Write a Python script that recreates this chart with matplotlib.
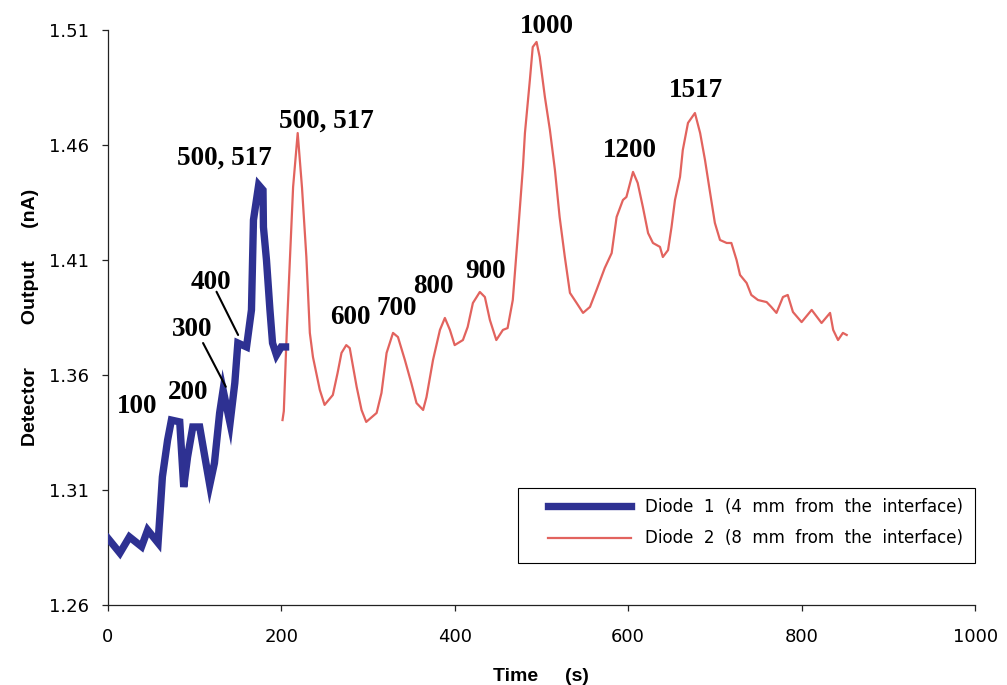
import matplotlib
matplotlib.use("Agg")
import matplotlib.pyplot as plt
from matplotlib.patches import Rectangle

# ---------------- data ----------------
diode1_t = [0, 14, 25, 39, 46, 58, 60, 63, 69, 73.4, 83, 87.6, 92, 98, 106, 112,
            117.6, 123, 129, 133, 141, 146.5, 150, 160, 165.7, 168, 174, 179,
            179.5, 183, 187, 190, 194.5, 200, 205]
diode1_v = [1.2891, 1.2826, 1.2896, 1.2854, 1.2926, 1.2870, 1.2983, 1.3157, 1.3317,
            1.3404, 1.3396, 1.3113, 1.3243, 1.3374, 1.3374, 1.3243, 1.3122, 1.3217,
            1.3435, 1.3535, 1.3391, 1.3565, 1.3739, 1.3722, 1.3883, 1.4274, 1.4426,
            1.4404, 1.4243, 1.4100, 1.3883, 1.3739, 1.3687, 1.3722, 1.3722]

diode2_t = [201.5, 203, 206.6, 210, 213.7, 219, 224, 229, 233, 236.6, 244.5, 250,
            259.5, 265, 269.5, 275, 279, 287, 292.6, 298, 310, 315.6, 321.5, 328.9,
            334.6, 342.6, 350, 356, 363.6, 367.5, 375, 383, 388.7, 394.5, 400, 409.5,
            415, 421, 429, 434.8, 440.6, 448, 455.6, 461, 467, 473, 478.7, 481,
            486.7, 490, 494.4, 498, 504, 509.8, 515.6, 521, 527, 532.9, 540.6, 548,
            556, 563.6, 573, 581, 586.7, 594, 598, 605.6, 611, 617, 623, 628.6,
            636.7, 640, 646, 650, 654, 659.8, 663, 669, 677, 683, 688.6, 694, 700,
            705.9, 713.6, 719, 725, 729, 736.6, 742, 749.7, 759.7, 765, 771, 778.5,
            784, 790, 800, 811.6, 823, 832.8, 836.4, 842, 847.6, 852]
diode2_v = [1.3404, 1.3443, 1.3809, 1.4100, 1.4417, 1.4652, 1.4413, 1.4113, 1.3783,
            1.3678, 1.3535, 1.3470, 1.3513, 1.3609, 1.3696, 1.3730, 1.3717, 1.3548,
            1.3448, 1.3396, 1.3435, 1.3522, 1.3696, 1.3783, 1.3765, 1.3665, 1.3565,
            1.3478, 1.3448, 1.3504, 1.3665, 1.3796, 1.3848, 1.3796, 1.3730, 1.3752,
            1.3809, 1.3913, 1.3961, 1.3939, 1.3839, 1.3752, 1.3796, 1.3804, 1.3926,
            1.4217, 1.4504, 1.4652, 1.4883, 1.5026, 1.5048, 1.4983, 1.4809, 1.4665,
            1.4491, 1.4287, 1.4113, 1.3957, 1.3913, 1.3870, 1.3896, 1.3970, 1.4065,
            1.4130, 1.4287, 1.4361, 1.4374, 1.4483, 1.4435, 1.4330, 1.4217, 1.4174,
            1.4157, 1.4113, 1.4143, 1.4243, 1.4361, 1.4461, 1.4578, 1.4696, 1.4739,
            1.4652, 1.4535, 1.4404, 1.4261, 1.4187, 1.4174, 1.4174, 1.4100, 1.4035,
            1.4000, 1.3948, 1.3926, 1.3917, 1.3896, 1.3870, 1.3939, 1.3948, 1.3874,
            1.3830, 1.3883, 1.3826, 1.3870, 1.3796, 1.3752, 1.3783, 1.3774]

series_labels = ["Diode  1  (4  mm  from  the  interface)",
                 "Diode  2  (8  mm  from  the  interface)"]

# peak annotations (text, x, y)
ann_text = ["100", "200", "300", "400", "500, 517", "500, 517", "600", "700",
            "800", "900", "1000", "1200", "1517"]
ann_x = [34, 92.8, 97.5, 118.8, 134.4, 252, 280, 333.3, 376, 436, 506, 601.5, 678]
ann_y = [1.3461, 1.3526, 1.3796, 1.4004, 1.4543, 1.4704, 1.3848, 1.3891, 1.3983,
         1.4048, 1.5117, 1.4574, 1.4835]

# leader lines for "300" and "400": (x0, y0) -> (x1, y1)
leader_x0 = [109.9, 125.4]
leader_y0 = [1.3739, 1.3962]
leader_x1 = [136.1, 150.3]
leader_y1 = [1.3549, 1.3774]

x_ticks = [0, 200, 400, 600, 800, 1000]
y_ticks = [1.26, 1.31, 1.36, 1.41, 1.46, 1.51]
y_tick_labels = ["1.26", "1.31", "1.36", "1.41", "1.46", "1.51"]

# ---------------- plot ----------------
fig = plt.figure(figsize=(10.07, 6.85), dpi=100)
ax = fig.add_axes([0.107, 0.1168, 0.8613, 0.8394])

blue = "#2E3192"
red = "#E2635E"

ax.plot(diode1_t, diode1_v, color=blue, lw=5.3, solid_joinstyle="miter",
        label=series_labels[0], zorder=3)
ax.plot(diode2_t, diode2_v, color=red, lw=1.6, label=series_labels[1], zorder=2)

for t, x, y in zip(ann_text, ann_x, ann_y):
    ax.text(x, y, t, ha="center", va="center", fontsize=19.5, fontweight="bold",
            family="Liberation Serif", color="black", clip_on=False)

for x0, y0, x1, y1 in zip(leader_x0, leader_y0, leader_x1, leader_y1):
    ax.annotate("", xy=(x1, y1), xytext=(x0, y0),
                arrowprops=dict(arrowstyle="-", color="black", lw=1.5,
                                shrinkA=0, shrinkB=0))

ax.set_xlim(0, 1000)
ax.set_ylim(1.26, 1.51)
ax.set_xticks(x_ticks)
ax.set_yticks(y_ticks)
ax.set_yticklabels(y_tick_labels)

for s in ["top", "right"]:
    ax.spines[s].set_visible(False)
for s in ["left", "bottom"]:
    ax.spines[s].set_color("#222222")
    ax.spines[s].set_linewidth(0.9)

ax.tick_params(axis="both", direction="out", length=4.5, width=0.9,
               colors="#222222", labelcolor="black", labelsize=13)
ax.tick_params(axis="y", pad=9)
ax.tick_params(axis="x", pad=12)
for lab in ax.get_xticklabels() + ax.get_yticklabels():
    lab.set_family("DejaVu Sans")

ax.set_xlabel("Time     (s)", fontsize=14, fontweight="bold",
              family="Liberation Sans", labelpad=16)
ax.set_ylabel("Detector        Output      (nA)", fontsize=14, fontweight="bold",
              family="Liberation Sans", labelpad=7)

# legend box
ax.add_patch(Rectangle((0.473, 0.073), 0.527, 0.1305, transform=ax.transAxes,
                       fill=False, edgecolor="black", lw=0.8, clip_on=False,
                       zorder=4))
leg = ax.legend(loc="upper left", bbox_to_anchor=(0.5075, 0.186), frameon=False,
                borderpad=0, borderaxespad=0, handlelength=5.0,
                handletextpad=0.8, labelspacing=0.8,
                prop={"family": "DejaVu Sans", "size": 12})

fig.savefig("out.png", dpi=100)
